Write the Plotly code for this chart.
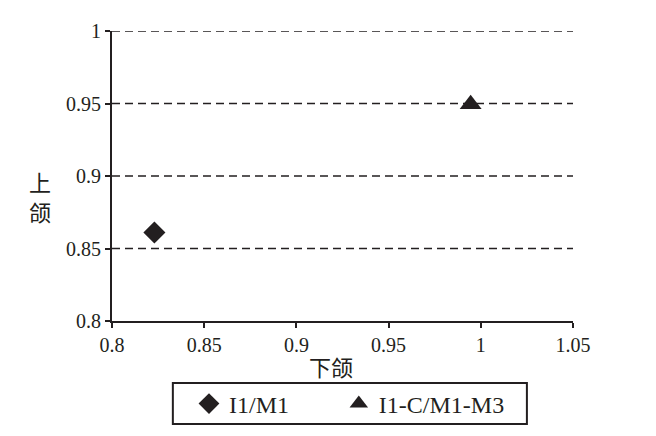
import plotly.graph_objects as go

series_names = ["I1/M1", "I1-C/M1-M3"]
x_vals = [[0.823], [0.9945]]
y_vals = [[0.861], [0.9495]]
symbols = ["diamond", "triangle-up"]
x_ticks = [0.8, 0.85, 0.9, 0.95, 1, 1.05]
x_ticklabels = ["0.8", "0.85", "0.9", "0.95", "1", "1.05"]
y_ticks = [0.8, 0.85, 0.9, 0.95, 1]
y_ticklabels = ["0.8", "0.85", "0.9", "0.95", "1"]
x_title = "下颌"
y_title_chars = ["上", "颌"]

ink = "#231f20"
serif = "Liberation Serif"
cjk = "Noto Sans CJK SC"
tickfont = dict(family=serif, size=20, color=ink)
legend_ids = ["legend", "legend2"]

fig = go.Figure()
for name, xs, ys, sym, sz, lg in zip(series_names, x_vals, y_vals, symbols, [17, 19], legend_ids):
    fig.add_trace(go.Scatter(
        x=xs, y=ys, mode="markers", name=name, legend=lg,
        marker=dict(symbol=sym, size=sz, color=ink, line=dict(width=0)),
    ))

# dashed horizontal grid lines at the y ticks above the x axis
shapes = [dict(type="line", xref="paper", x0=0, x1=1, yref="y", y0=v, y1=v,
               line=dict(color=ink, width=1.3, dash="8px,5px"), layer="below")
          for v in y_ticks[1:]]
# legend frame
shapes.append(dict(type="rect", xref="paper", yref="paper",
                   x0=0.132, x1=0.900, y0=-0.355, y1=-0.214, layer="above",
                   line=dict(color=ink, width=2), fillcolor="rgba(0,0,0,0)"))

annotations = [
    dict(text=ch, xref="paper", yref="paper", x=-0.156, y=yy,
         showarrow=False, font=dict(family=cjk, size=22, color=ink),
         xanchor="center", yanchor="middle")
    for ch, yy in zip(y_title_chars, [0.483, 0.378])
]
annotations.append(
    dict(text=x_title, xref="paper", yref="paper", x=0.475, y=-0.155,
         showarrow=False, font=dict(family=cjk, size=22, color=ink),
         xanchor="center", yanchor="middle"))

legend_style = dict(orientation="h", xanchor="left", y=-0.286, yanchor="middle",
                    borderwidth=0, bgcolor="rgba(0,0,0,0)",
                    font=dict(family=serif, size=24, color=ink), itemwidth=30)

fig.update_layout(
    width=640, height=420,
    margin=dict(l=104, r=75, t=23, b=107, autoexpand=False),
    paper_bgcolor="white", plot_bgcolor="white",
    font=dict(family=serif, size=20, color=ink),
    showlegend=True,
    legend=dict(x=0.167, **legend_style),
    legend2=dict(x=0.492, **legend_style),
    xaxis=dict(
        range=[0.8, 1.05], tickvals=x_ticks, ticktext=x_ticklabels, tickfont=tickfont,
        showgrid=False, zeroline=False,
        showline=True, linecolor=ink, linewidth=2,
        ticks="outside", ticklen=5, tickcolor=ink, tickwidth=2,
    ),
    yaxis=dict(
        range=[0.8, 1.0], tickvals=y_ticks, ticktext=y_ticklabels, tickfont=tickfont,
        showgrid=False, zeroline=False,
        showline=True, linecolor=ink, linewidth=2,
        ticks="outside", ticklen=5, tickcolor=ink, tickwidth=2,
    ),
    shapes=shapes,
    annotations=annotations,
)

fig.write_html("out.html")
